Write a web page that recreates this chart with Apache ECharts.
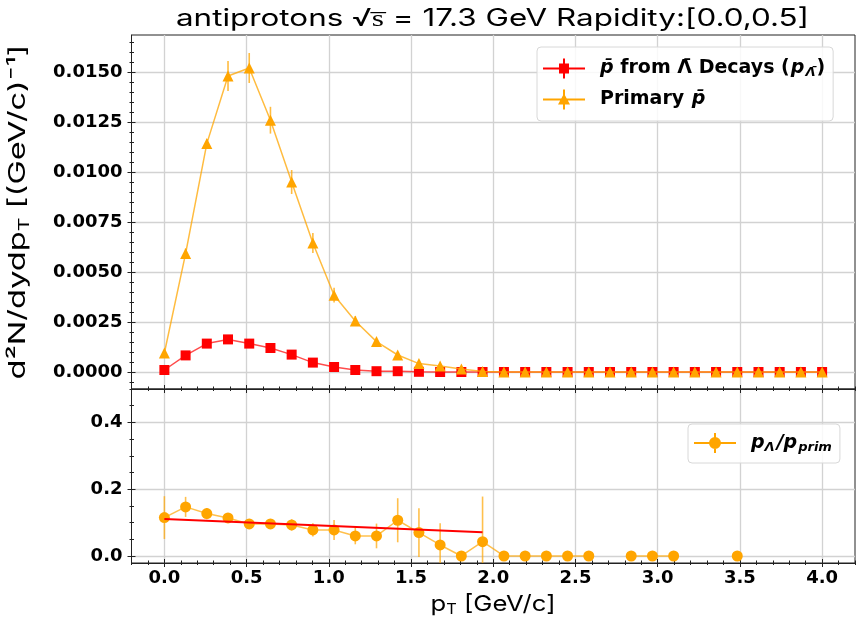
<!DOCTYPE html>
<html><head><meta charset="utf-8">
<script src="https://cdn.jsdelivr.net/npm/echarts@6/dist/echarts.min.js"></script>
<style>html,body{margin:0;padding:0;background:#fff}#c{width:864px;height:631px}</style>
</head><body><div id="c"></div>
<script>
// ---------------- data ----------------
const pT = [0.000, 0.129, 0.258, 0.387, 0.516, 0.645, 0.774, 0.903, 1.032, 1.161, 1.290, 1.419, 1.548, 1.677, 1.806, 1.935,
            2.065, 2.194, 2.323, 2.452, 2.581, 2.710, 2.839, 2.968, 3.097, 3.226, 3.355, 3.484, 3.613, 3.742, 3.871, 4.000];
const lambdaDecay = [0.00010, 0.00083, 0.00142, 0.00163, 0.00142, 0.00120, 0.00087, 0.00047, 0.00025, 0.00010, 0.00004, 0.00004, 0.00001, 0, 0, 0,
                     0, 0, 0, 0, 0, 0, 0, 0, 0, 0, 0, 0, 0, 0, 0, 0];
const lambdaDecayErr = [0.00003, 0.00008, 0.00010, 0.00020, 0.00010, 0.00010, 0.00008, 0.00006, 0.00005, 0.00003, 0.00002, 0.00002, 0.00001, 0, 0, 0,
                        0, 0, 0, 0, 0, 0, 0, 0, 0, 0, 0, 0, 0, 0, 0, 0];
const primary = [0.00095, 0.00592, 0.01142, 0.01480, 0.01520, 0.01259, 0.00950, 0.00645, 0.00384, 0.00255, 0.00152, 0.00085, 0.00042, 0.00030, 0.00015, 0.00002,
                 0, 0, 0, 0, 0, 0, 0, 0, 0, 0, 0, 0, 0, 0, 0, 0];
const primaryErr = [0.00010, 0.00025, 0.00022, 0.00075, 0.00075, 0.00067, 0.00060, 0.00050, 0.00037, 0.00025, 0.00010, 0.00008, 0.00005, 0.00004, 0.00003, 0.00001,
                    0, 0, 0, 0, 0, 0, 0, 0, 0, 0, 0, 0, 0, 0, 0, 0];
const ratio = [0.115, 0.147, 0.127, 0.114, 0.096, 0.096, 0.093, 0.078, 0.078, 0.060, 0.060, 0.107, 0.070, 0.033, 0.000, 0.043,
               0, 0, 0, 0, 0, '-', 0, 0, 0, '-', '-', 0, '-', '-', '-', '-'];
const ratioErr = [0.064, 0.030, 0.017, 0.010, 0.010, 0.010, 0.017, 0.020, 0.030, 0.025, 0.037, 0.066, 0.073, 0.065, 0.000, 0.135,
                  0, 0, 0, 0, 0, 0, 0, 0, 0, 0, 0, 0, 0, 0, 0, 0];
const fitX = [0.000, 1.935];
const fitY = [0.111, 0.071];

const xTicks = [0.0, 0.5, 1.0, 1.5, 2.0, 2.5, 3.0, 3.5, 4.0];
const yTopTicks = [0.0000, 0.0025, 0.0050, 0.0075, 0.0100, 0.0125, 0.0150];
const yBotTicks = [0.0, 0.2, 0.4];

const seriesNames = ['p̄ from Λ̄ Decays (pΛ̄)', 'Primary p̄', 'pΛ/pprim'];
const titleText = 'antiprotons √s̅ = 17.3 GeV Rapidity:[0.0,0.5]';
const yLabelParts = ['d²N/dydp', 'T', ' [(GeV/c)⁻¹]'];
const xLabelParts = ['p', 'T', ' [GeV/c]'];

// ---------------- layout / style ----------------
const X_MIN = -0.2, X_MAX = 4.2;
const YT_MIN = -0.00085, YT_MAX = 0.01685;
const YB_MIN = -0.021, YB_MAX = 0.5;
const RED = '#ff0000', ORANGE = '#ffa500';
const TICK_FONT = {fontFamily: 'DejaVu Sans', fontWeight: 'bold', fontSize: 18, color: '#000'};
const LABEL_FONT = 'Inter';

const mctx = document.createElement('canvas').getContext('2d');
function measure(parts, size, subSize) {
  let w = 0;
  parts.forEach((p, i) => { mctx.font = '400 ' + (i === 1 ? subSize : size) + 'px ' + LABEL_FONT; w += mctx.measureText(p).width; });
  return w;
}

function steps(a, b, s) { const r = []; for (let v = a; v <= b + s * 1e-6; v += s) r.push(+v.toFixed(6)); return r; }
const xMinor = steps(-0.2, 4.2, 0.1);
const yTopMinor = steps(-0.0005, 0.0165, 0.0005);
const yBotMinor = steps(0, 0.5, 0.05);

function tickAxis(grid, min, max, pos, vals, inside, len) {
  return {type: 'value', gridIndex: grid, min, max, position: pos,
    axisLine: {show: false, onZero: false},
    axisTick: {show: true, inside, length: len, customValues: vals, lineStyle: {color: '#222', width: 1}},
    axisLabel: {show: false}, splitLine: {show: false}};
}
function mainAxis(grid, min, max, pos, vals, showLabel, fmt, margin) {
  return {type: 'value', gridIndex: grid, min, max, position: pos,
    axisLine: {show: true, onZero: false, lineStyle: {color: '#222', width: 1}},
    axisTick: {show: true, inside: false, length: 4, customValues: vals, lineStyle: {color: '#222', width: 1}},
    axisLabel: Object.assign({show: showLabel, customValues: vals, formatter: fmt, margin: margin}, TICK_FONT),
    splitLine: {show: true, lineStyle: {color: '#d2d2d2', width: 1.3}}};
}

const xAxes = [
  mainAxis(0, X_MIN, X_MAX, 'bottom', xTicks, false, v => v.toFixed(1), 6),
  tickAxis(0, X_MIN, X_MAX, 'bottom', xTicks, true, 4),
  tickAxis(0, X_MIN, X_MAX, 'bottom', xMinor, true, 2.5),
  tickAxis(0, X_MIN, X_MAX, 'bottom', xMinor, false, 2),
  mainAxis(1, X_MIN, X_MAX, 'bottom', xTicks, true, v => v.toFixed(1), 6),
  tickAxis(1, X_MIN, X_MAX, 'bottom', xTicks, true, 4),
  tickAxis(1, X_MIN, X_MAX, 'bottom', xMinor, true, 2.5),
  tickAxis(1, X_MIN, X_MAX, 'bottom', xMinor, false, 2)
];
const yAxes = [
  mainAxis(0, YT_MIN, YT_MAX, 'left', yTopTicks, true, v => v.toFixed(4), 9),
  tickAxis(0, YT_MIN, YT_MAX, 'left', yTopTicks, true, 4),
  tickAxis(0, YT_MIN, YT_MAX, 'left', yTopMinor, true, 2.5),
  tickAxis(0, YT_MIN, YT_MAX, 'left', yTopMinor, false, 2),
  mainAxis(1, YB_MIN, YB_MAX, 'left', yBotTicks, true, v => v.toFixed(1), 9),
  tickAxis(1, YB_MIN, YB_MAX, 'left', yBotTicks, true, 4),
  tickAxis(1, YB_MIN, YB_MAX, 'left', yBotMinor, true, 2.5),
  tickAxis(1, YB_MIN, YB_MAX, 'left', yBotMinor, false, 2)
];

function pairs(xs, ys) { return xs.map((x, i) => [x, ys[i]]); }
function errSeries(xi, yi, xs, ys, es, color) {
  const d = [];
  xs.forEach((x, i) => { if (ys[i] !== '-' && es[i] > 0) d.push([x, ys[i], es[i]]); });
  return {type: 'custom', xAxisIndex: xi, yAxisIndex: yi, clip: true, silent: true, z: 2,
    encode: {x: 0, y: 1}, data: d,
    renderItem: (params, api) => {
      const x = api.value(0), y = api.value(1), e = api.value(2);
      const a = api.coord([x, y - e]), b = api.coord([x, y + e]);
      return {type: 'line', shape: {x1: a[0], y1: a[1], x2: b[0], y2: b[1]},
        style: {stroke: color, lineWidth: 1.6}};
    }};
}

const iconSquare = 'path://M0 9h42v2H0z M20 0h2v20h-2z M16 5h10v10H16z';
const iconTri = 'path://M0 9h42v2H0z M20 0h2v20h-2z M21 4L27 15H15z';
const iconCircle = 'path://M0 9h42v2H0z M20 0h2v20h-2z M27 10A6 6 0 1 1 15 10A6 6 0 1 1 27 10z';

const LF = 19;
const legendRich = {
  t: {fontFamily: 'DejaVu Sans', fontWeight: 'bold', fontSize: LF, color: '#000', padding: [0, 0, 0, 10]},
  b: {fontFamily: 'DejaVu Sans', fontWeight: 'bold', fontSize: LF, color: '#000'},
  i: {fontFamily: 'DejaVu Sans', fontWeight: 'bold', fontStyle: 'italic', fontSize: LF, color: '#000', padding: [0, 1, 0, 1]},
  i0: {fontFamily: 'DejaVu Sans', fontWeight: 'bold', fontStyle: 'italic', fontSize: LF, color: '#000', padding: [0, 0, 0, 10]},
  s: {fontFamily: 'DejaVu Sans', fontWeight: 'bold', fontStyle: 'italic', fontSize: 13, color: '#000', padding: [9, 1, 0, 0]}
};

// text sizes (stretched horizontally to match the wide geometric font of the original)
const TITLE_SIZE = 24, YL_SIZE = 23, YL_SUB = 15, XL_SIZE = 22, XL_SUB = 14;
mctx.font = '400 ' + TITLE_SIZE + 'px ' + LABEL_FONT;
const titleScale = 633 / mctx.measureText(titleText).width;
const ylScale = 335 / measure(yLabelParts, YL_SIZE, YL_SUB);
const xlScale = 125 / measure(xLabelParts, XL_SIZE, XL_SUB);

const chart = echarts.init(document.getElementById('c'), null, {renderer: 'canvas'});
chart.setOption({
  animation: false,
  backgroundColor: '#fff',
  graphic: [
    {type: 'text', x: 492.5, y: 19, scaleX: titleScale, silent: true,
     style: {text: titleText, align: 'center', verticalAlign: 'middle', fontFamily: LABEL_FONT, fontSize: TITLE_SIZE, fill: '#000'}},
    {type: 'text', x: 18, y: 212, rotation: Math.PI / 2, scaleX: ylScale, silent: true,
     style: {text: yLabelParts[0] + '{sub|' + yLabelParts[1] + '}' + yLabelParts[2], align: 'center', verticalAlign: 'middle',
       fontFamily: LABEL_FONT, fontSize: YL_SIZE, fill: '#000',
       rich: {sub: {fontFamily: LABEL_FONT, fontSize: YL_SUB, fill: '#000', padding: [12, 0, 0, 0]}}}},
    {type: 'text', x: 493, y: 604, scaleX: xlScale, silent: true,
     style: {text: xLabelParts[0] + '{sub|' + xLabelParts[1] + '}' + xLabelParts[2], align: 'center', verticalAlign: 'middle',
       fontFamily: LABEL_FONT, fontSize: XL_SIZE, fill: '#000',
       rich: {sub: {fontFamily: LABEL_FONT, fontSize: XL_SUB, fill: '#000', padding: [12, 0, 0, 0]}}}}
  ],
  grid: [
    {left: 131.5, right: 9, top: 35, height: 354, show: true, borderColor: '#222', borderWidth: 1, backgroundColor: 'transparent'},
    {left: 131.5, right: 9, top: 389, height: 174, show: true, borderColor: '#222', borderWidth: 1, backgroundColor: 'transparent'}
  ],
  xAxis: xAxes,
  yAxis: yAxes,
  legend: [
    {left: 537, top: 47, orient: 'vertical', itemWidth: 42, itemHeight: 20, itemGap: 10,
     padding: [11.5, 8, 11.5, 6], backgroundColor: 'rgba(255,255,255,0.85)', borderColor: '#d8d8d8', borderWidth: 1, borderRadius: 4,
     data: [{name: seriesNames[0], icon: iconSquare, itemStyle: {color: RED}},
            {name: seriesNames[1], icon: iconTri, itemStyle: {color: ORANGE}}],
     formatter: n => n === seriesNames[0] ? '{i0|p̄}{b| from Λ̄ Decays (}{i|p}{s|Λ̄}{b|)}' : '{t|Primary }{i|p̄}',
     textStyle: {rich: legendRich}},
    {left: 688, top: 424, orient: 'vertical', itemWidth: 42, itemHeight: 20,
     padding: [9, 8, 9, 6], backgroundColor: 'rgba(255,255,255,0.85)', borderColor: '#d8d8d8', borderWidth: 1, borderRadius: 4,
     data: [{name: seriesNames[2], icon: iconCircle, itemStyle: {color: ORANGE}}],
     formatter: () => '{i0|p}{s|Λ}{i|/p}{s|prim}',
     textStyle: {rich: legendRich}}
  ],
  series: [
    errSeries(0, 0, pT, lambdaDecay, lambdaDecayErr, 'rgba(255,0,0,0.7)'),
    {name: seriesNames[0], type: 'line', xAxisIndex: 0, yAxisIndex: 0, data: pairs(pT, lambdaDecay), z: 3,
     symbol: 'rect', symbolSize: 10, itemStyle: {color: RED}, lineStyle: {color: 'rgba(255,0,0,0.7)', width: 1.5}},
    errSeries(0, 0, pT, primary, primaryErr, 'rgba(255,165,0,0.75)'),
    {name: seriesNames[1], type: 'line', xAxisIndex: 0, yAxisIndex: 0, data: pairs(pT, primary), z: 4,
     symbol: 'triangle', symbolSize: 11, itemStyle: {color: ORANGE}, lineStyle: {color: 'rgba(255,165,0,0.75)', width: 1.5}},
    errSeries(4, 4, pT, ratio, ratioErr, 'rgba(255,165,0,0.7)'),
    {name: seriesNames[2], type: 'line', xAxisIndex: 4, yAxisIndex: 4, data: pairs(pT, ratio), z: 3, connectNulls: false,
     symbol: 'circle', symbolSize: 11, itemStyle: {color: ORANGE}, lineStyle: {color: 'rgba(255,165,0,0.7)', width: 1.5}},
    {name: 'fit', type: 'line', xAxisIndex: 4, yAxisIndex: 4, data: pairs(fitX, fitY), z: 5,
     symbol: 'none', lineStyle: {color: RED, width: 2}}
  ]
});
</script>
</body></html>
